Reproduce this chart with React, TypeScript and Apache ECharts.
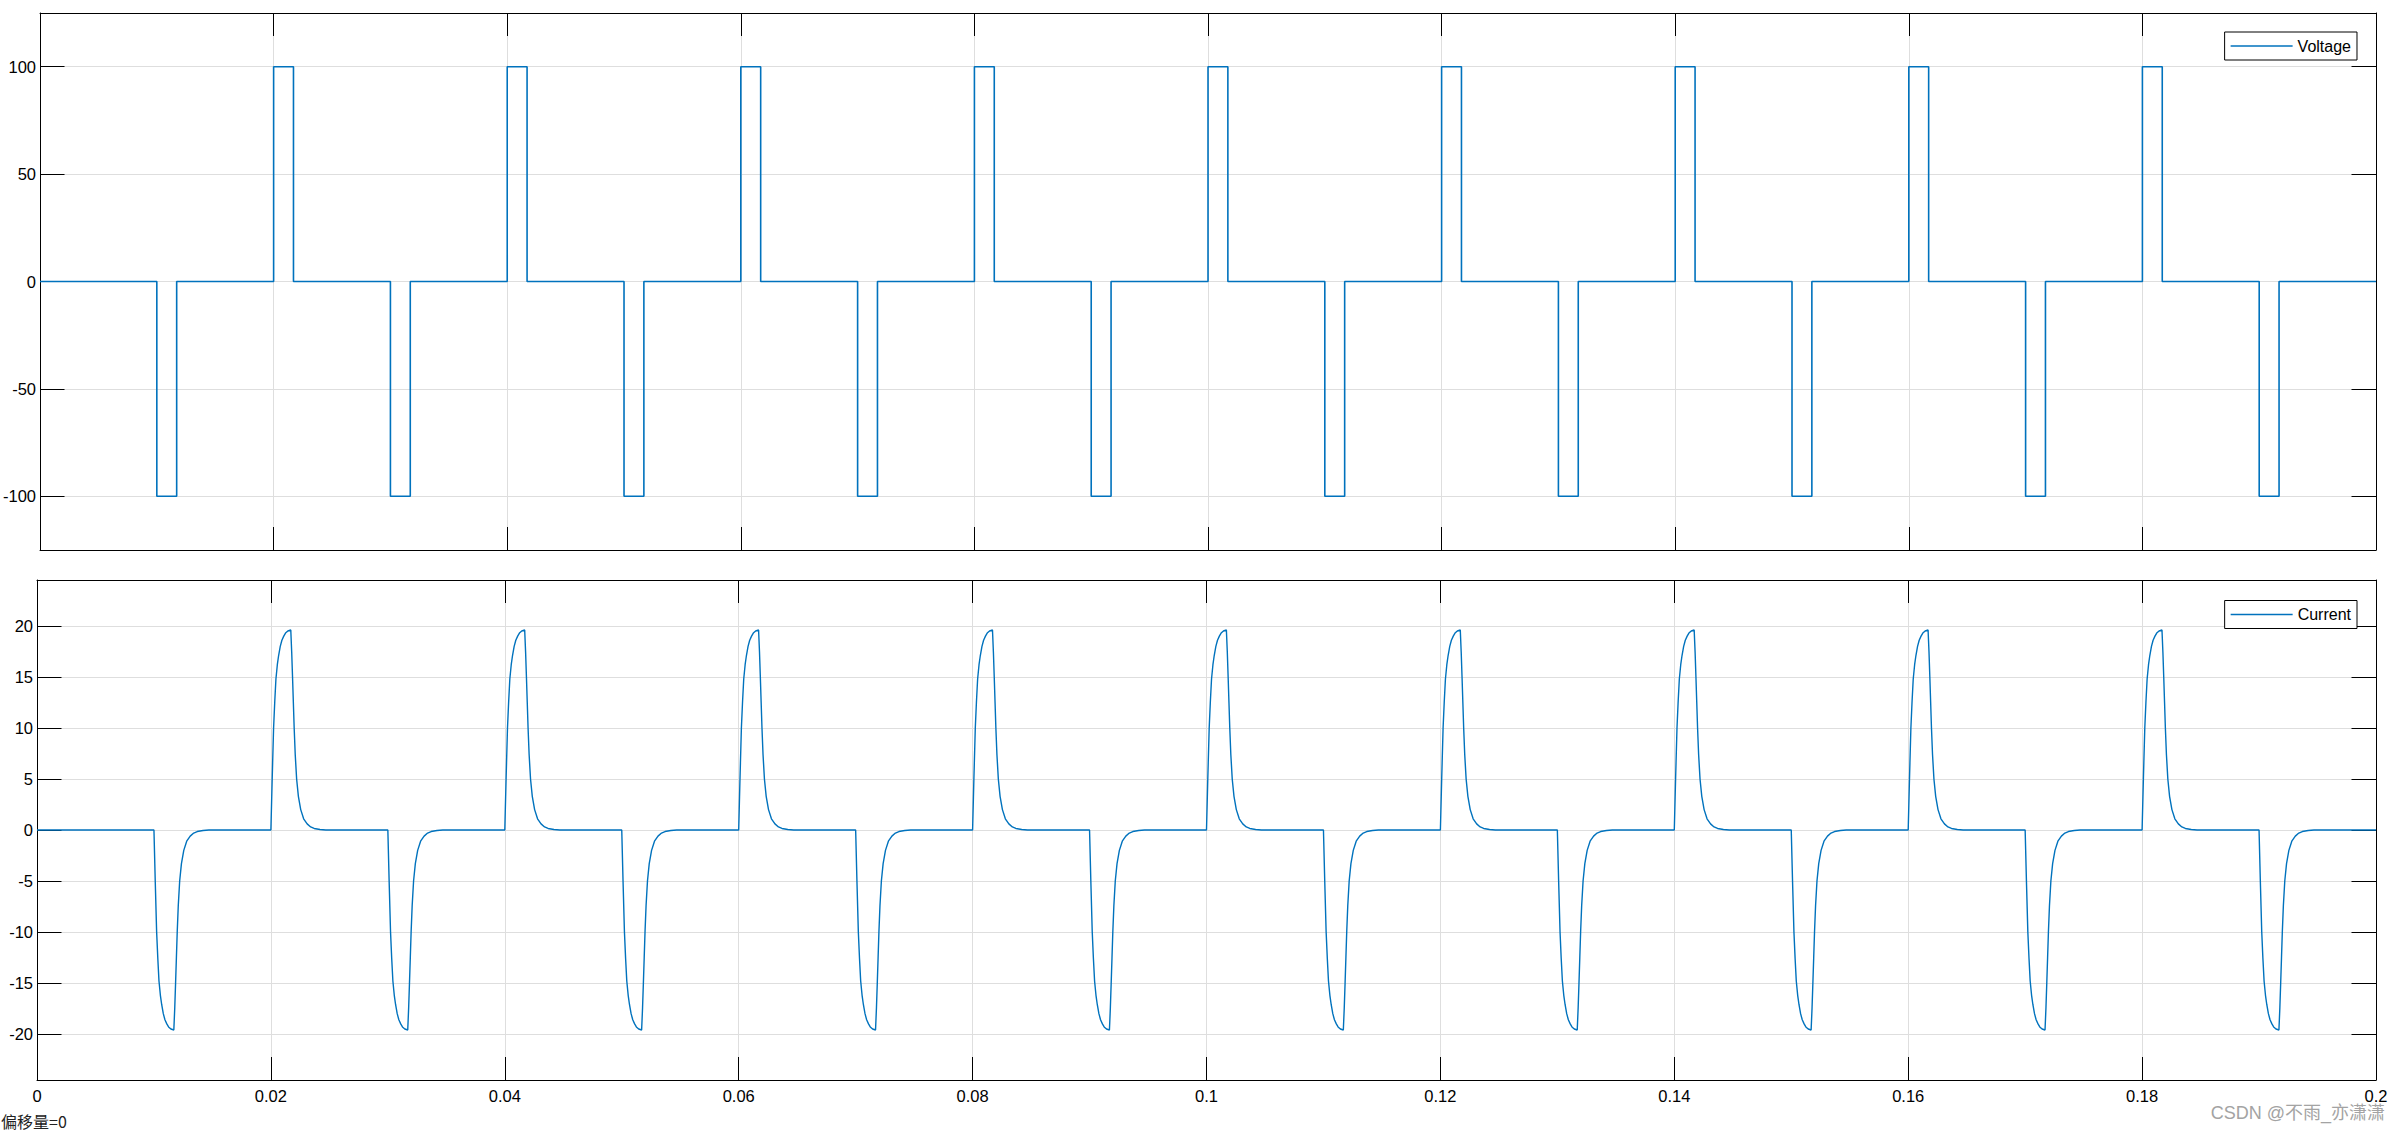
import React, { useEffect, useRef } from "react";
import * as echarts from "echarts";

// ---- data ----
const timeMin = 0;
const timeMax = 0.2;
const timeInterval = 0.02;

const voltageLimits = [-125, 125];
const currentLimits = [-24.5, 24.5];

// start times (s) of voltage pulses
const positivePulseStarts = [0.02, 0.04, 0.06, 0.08, 0.1, 0.12, 0.14, 0.16, 0.18];
const negativePulseStarts = [0.01, 0.03, 0.05, 0.07, 0.09, 0.11, 0.13, 0.15, 0.17, 0.19];
const pulseWidth = 0.0017; // s
const pulseAmplitude = 100; // V

// current response to one pulse (offset in ms from pulse start, value in A)
const currentPulseOffsetsMs = [
  0, 0.11, 0.23, 0.33, 0.43, 0.55, 0.66, 0.8, 0.94, 1.1, 1.25, 1.45, 1.7,
  1.78, 1.85, 1.92, 1.99, 2.08, 2.2, 2.35, 2.55, 2.8, 3.1, 3.4, 3.7, 4.2, 4.7,
];
const currentPulseValues = [
  0, 5, 10, 12.6, 14.8, 16.2, 17.1, 18.0, 18.6, 19.0, 19.3, 19.5, 19.6,
  17.4, 15.0, 12.5, 10.0, 7.4, 5.0, 3.3, 2.0, 1.1, 0.6, 0.3, 0.15, 0.05, 0,
];

const BLUE = "#0072BD";
const FONT = "'Liberation Sans', Arial, sans-serif";

function buildPulses() {
  const ev: { s: number; sign: number }[] = [];
  positivePulseStarts.forEach((s) => ev.push({ s, sign: 1 }));
  negativePulseStarts.forEach((s) => ev.push({ s, sign: -1 }));
  ev.sort((a, b) => a.s - b.s);
  return ev;
}

function buildVoltage() {
  const d: number[][] = [[timeMin, 0]];
  buildPulses().forEach(({ s, sign }) => {
    d.push([s, 0], [s, sign * pulseAmplitude], [s + pulseWidth, sign * pulseAmplitude], [s + pulseWidth, 0]);
  });
  d.push([timeMax, 0]);
  return d;
}

function buildCurrent() {
  const d: number[][] = [[timeMin, 0]];
  buildPulses().forEach(({ s, sign }) => {
    currentPulseOffsetsMs.forEach((o, i) => {
      d.push([s + o / 1000, sign * currentPulseValues[i]]);
    });
  });
  d.push([timeMax, 0]);
  return d;
}

const GRID_LINE = "#dedede";
const AXIS_COLOR = "#000";
const axisLine = { show: true, onZero: false, lineStyle: { color: AXIS_COLOR, width: 1 } };

function xAxisPair(gridIndex: number, showLabels: boolean) {
  const base = {
    type: "value",
    gridIndex,
    min: timeMin,
    max: timeMax,
    interval: timeInterval,
    axisLine,
    axisTick: { show: true, inside: true, length: 23, lineStyle: { color: AXIS_COLOR, width: 1 } },
  };
  return [
    {
      ...base,
      position: "bottom",
      axisLabel: {
        show: showLabels,
        color: "#000",
        fontSize: 16.5,
        fontFamily: FONT,
        margin: 7,
      },
      splitLine: { show: true, lineStyle: { color: GRID_LINE, width: 1 } },
    },
    {
      ...base,
      position: "top",
      axisLabel: { show: false },
      splitLine: { show: false },
    },
  ];
}

function yAxisPair(gridIndex: number, lim: number[], step: number) {
  const base = {
    type: "value",
    gridIndex,
    min: lim[0],
    max: lim[1],
    splitNumber: Math.round((lim[1] - lim[0]) / step),
    minInterval: step,
    maxInterval: step,
    axisLine,
    axisTick: { show: true, inside: true, length: 24.5, lineStyle: { color: AXIS_COLOR, width: 1 } },
  };
  return [
    {
      ...base,
      position: "left",
      axisLabel: {
        show: true,
        color: "#000",
        fontSize: 16.5,
        fontFamily: FONT,
        margin: 4,
        showMinLabel: false,
        showMaxLabel: false,
      },
      splitLine: { show: true, lineStyle: { color: GRID_LINE, width: 1 } },
    },
    {
      ...base,
      position: "right",
      axisLabel: { show: false },
      splitLine: { show: false },
    },
  ];
}

function legendFor(name: string, top: number) {
  return {
    data: [name],
    right: 43,
    top,
    orient: "horizontal",
    icon: "rect",
    itemWidth: 62,
    itemHeight: 1.5,
    padding: [6, 6, 6, 6],
    borderColor: "#000",
    borderWidth: 1,
    borderRadius: 0,
    backgroundColor: "#fff",
    selectedMode: false,
    textStyle: { color: "#000", fontSize: 16, fontFamily: FONT },
  };
}

export default function App() {
  const ref = useRef<HTMLDivElement>(null);
  useEffect(() => {
    if (!ref.current) return;
    const chart = echarts.init(ref.current, undefined, { renderer: "svg" });
    const option = {
      animation: false,
      backgroundColor: "#fff",
      textStyle: { fontFamily: FONT },
      grid: [
        { left: 37, right: 24, top: 13, height: 537, show: false },
        { left: 37, right: 24, top: 580, height: 500, show: false },
      ],
      xAxis: [...xAxisPair(0, false), ...xAxisPair(1, true)],
      yAxis: [...yAxisPair(0, voltageLimits, 50), ...yAxisPair(1, currentLimits, 5)],
      legend: [legendFor("Voltage", 32), legendFor("Current", 600.5)],
      series: [
        {
          name: "Voltage",
          type: "line",
          xAxisIndex: 0,
          yAxisIndex: 0,
          data: buildVoltage(),
          showSymbol: false,
          symbol: "none",
          lineStyle: { color: BLUE, width: 1.6 },
          itemStyle: { color: BLUE },
          z: 5,
        },
        {
          name: "Current",
          type: "line",
          xAxisIndex: 2,
          yAxisIndex: 2,
          data: buildCurrent(),
          showSymbol: false,
          symbol: "none",
          lineStyle: { color: BLUE, width: 1.4 },
          itemStyle: { color: BLUE },
          z: 5,
        },
      ],
      graphic: [
        {
          type: "text",
          left: 1,
          top: 1113,
          style: { text: "偏移量=0", fill: "#222", fontSize: 16, fontFamily: "'Noto Sans CJK SC', " + FONT },
        },
        {
          type: "text",
          right: 15,
          top: 1104,
          style: { text: "CSDN @不雨_亦潇潇", fill: "#a3a3a3", fontSize: 18, fontFamily: FONT + ", 'Noto Sans CJK SC'" },
        },
      ],
    };
    chart.setOption(option as any);
    return () => chart.dispose();
  }, []);
  return (
    <div
      ref={ref}
      style={{ position: "absolute", left: 0, top: 0, width: 2400, height: 1133 }}
    />
  );
}
